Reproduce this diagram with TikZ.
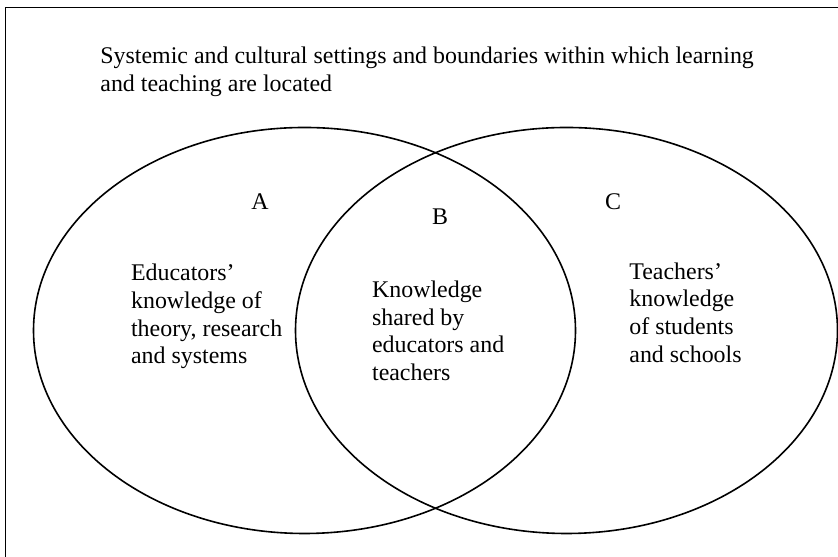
\documentclass[tikz,border=0pt]{standalone}
\usepackage{fontspec}
\setmainfont{Liberation Serif}
\usetikzlibrary{positioning}

\begin{document}
\begin{tikzpicture}[
    x=0.5bp, y=0.5bp,
    frame/.style={line width=0.9bp},
    set/.style={line width=0.8bp},
    label/.style={font=\fontsize{12}{13.85}\selectfont, inner sep=0pt},
    para/.style={label, align=left, anchor=base west}
]
\useasboundingbox (0,0) rectangle (838,557);

% outer frame (runs off the right and bottom edge)
\draw[frame] (5.5,0) |- (838,549.5);

% the two overlapping sets
\coordinate (cA) at (304.5,226.5);
\coordinate (cC) at (566.5,226.5);
\draw[set] (cA) ellipse [x radius=271, y radius=203];
\draw[set] (cC) ellipse [x radius=271, y radius=203];

% setting text (base = last line)
\node[para] (setting) at (100,465.5) {Systemic and cultural settings and boundaries within which learning\\and teaching are located};

% region letters
\node[label, anchor=base] (lA) at (260,347.5) {A};
\node[label, anchor=base] (lB) at (440,332.5) {B};
\node[label, anchor=base] (lC) at (613,347.5) {C};

% region texts
\node[para] (tA) at (130.7,193.2) {Educators’\\knowledge of\\theory, research\\and systems};
\node[para] (tB) at (371.7,176.6) {Knowledge\\shared by\\educators and\\teachers};
\node[para] (tC) at (629,194.9) {Teachers’\\knowledge\\of students\\and schools};

\end{tikzpicture}
\end{document}
